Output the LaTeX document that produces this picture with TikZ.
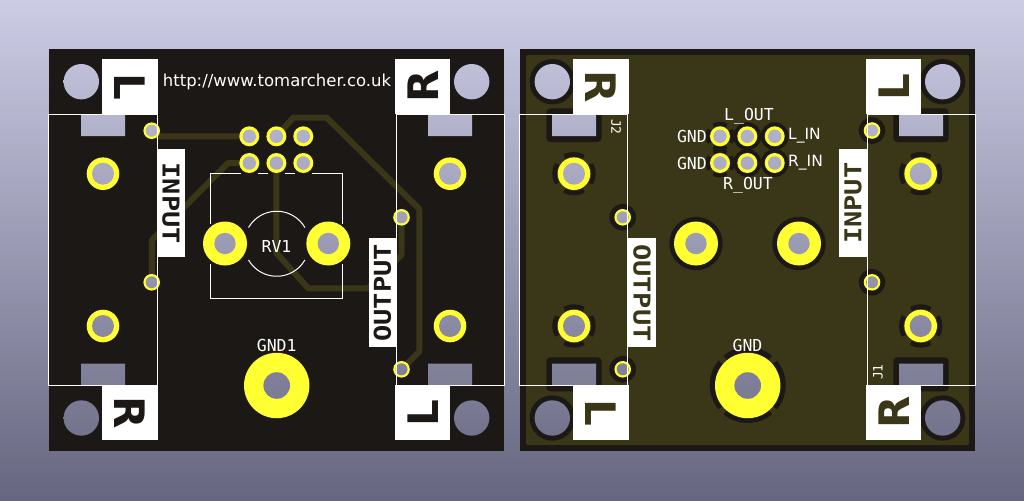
\documentclass[tikz,border=0pt]{standalone}
\usepackage{fontspec}
\setmainfont{DejaVu Sans}
\newfontfamily\silkmono{DejaVu Sans Mono}
\newcommand{\tagword}[1]{\scalebox{1}[0.86]{#1}}
\definecolor{bgtop}{rgb}{0.8,0.8,0.9}
\definecolor{bgbot}{rgb}{0.4,0.4,0.5}
\definecolor{boardblack}{RGB}{28,24,21}
\definecolor{coppergreen}{RGB}{58,54,24}
\definecolor{padyellow}{RGB}{255,255,50}
\tikzset{
  silkline/.style={draw=white, line width=1pt},
  track/.style={draw=coppergreen, line width=6pt, line join=round},
  thermal/.style={draw=boardblack, line width=5pt},
  silktext/.style={inner sep=0pt, text=white, font=\silkmono\fontsize{16.5}{16.5}\selectfont},
  silkprop/.style={inner sep=0pt, text=white, font=\fontsize{15.5}{15.5}\selectfont},
  cornertag/.style={fill=white, inner sep=0pt, minimum width=55.4pt, minimum height=55.2pt,
    text=#1, font=\bfseries\fontsize{42}{42}\selectfont},
  sidetag/.style={fill=white, inner sep=0pt, minimum height=27.4pt,
    text=#1, font=\silkmono\bfseries\fontsize{27}{27}\selectfont},
}
\begin{document}
\begin{tikzpicture}[x=1pt,y=-1pt]
  \useasboundingbox (0,0) rectangle (1024,500);
  \shade[top color=bgtop, bottom color=bgbot] (0,0) rectangle (1024,500);
  % boards
  \fill[boardblack] (49,49) rectangle (504,451);
  \fill[boardblack] (520,49) rectangle (975,451);
  \fill[coppergreen, rounded corners=2pt] (526,55) rectangle (969,445);
  % pad positions
  \foreach \name/\x/\y in {
      viaA/151.7/130.7, viaB/151.7/282.3, viaC/401.5/217.3, viaD/401.5/369.3,
      hdrA/249.3/136.3, hdrB/276.4/136.3, hdrC/303.3/136.3,
      hdrD/249.3/163, hdrE/276.4/163, hdrF/303.3/163}
    \coordinate (\name) at (\x,\y);
  % tracks on the front
  \draw[track] (viaA) -- (158,136.3) -- (hdrA);
  \draw[track] (viaB) -- (152,240) -- (228,163) -- (hdrD);
  \draw[track] (hdrE) -- (276.4,253) -- (308.3,288.3) -- (368,288.3) -- (401.5,255) -- (viaC);
  \draw[track] (hdrB) -- (293.3,117.6) -- (326.7,117.6) -- (419.3,209) -- (419.3,351.7) -- (viaD);
  % clearance on the back
  \foreach \x/\y/\r in {552.3/81.7/22.7, 942.7/81.7/22.7, 552.3/418/22.7, 942.7/418/22.7,
      622.7/217.3/13.3, 622.7/369.3/13.3, 872/130.5/13.3, 872/282.3/13.3,
      696/243.5/26.7, 799/243.5/26.7,
      747.3/136.3/14, 774.7/136.3/14, 747.3/163/14, 774.7/163/14}
    \fill[boardblack] (\x,\y) circle (\r pt);
  \foreach \x/\y/\w/\h in {546.3/108.3/55.4/33.7, 893.3/108.3/55.4/33.7,
      546.3/357.3/55.4/34, 893.3/357.3/55.4/34}
    \fill[boardblack, rounded corners=4pt] (\x,\y) rectangle ++(\w,\h);
  \foreach \x/\y in {574/173.7, 574/326, 920.7/173.7, 920.7/326}
    \foreach \a in {0,90,180,270}
      \draw[thermal, line width=4.5pt] ([shift={(\x,\y)}]\a-30:19.5pt) arc[start angle=\a-30, delta angle=60, radius=19.5pt];
  \foreach \y in {136.3,163}
    \foreach \a in {0,90,180,270}
      \draw[thermal, line width=4pt] ([shift={(720,\y)}]\a-32:12.5pt) arc[start angle=\a-32, delta angle=64, radius=12.5pt];
  \foreach \a in {0,90,180,270}
    \draw[thermal, line width=6pt] ([shift={(747.7,385)}]\a-40:35pt) arc[start angle=\a-40, delta angle=80, radius=35pt];
  % copper pads
  \foreach \x/\y/\r in {
      103/173.7/16.3, 103/326/16.3, 450/173.7/16.3, 450/326/16.3,
      151.7/130.7/8.3, 151.7/282.3/8.3, 401.5/217.3/8.3, 401.5/369.3/8.3,
      249.3/136.3/10, 276.4/136.3/10, 303.3/136.3/10, 249.3/163/10, 276.4/163/10, 303.3/163/10,
      225/243.5/22, 328.3/243.5/22, 276.7/385.5/32.7,
      574/173.7/16.3, 574/326/16.3, 920.7/173.7/16.3, 920.7/326/16.3,
      622.7/217.3/8.3, 622.7/369.3/8.3, 872/130.5/8.3, 872/282.3/8.3,
      720/136.3/10, 747.3/136.3/10, 774.7/136.3/10, 720/163/10, 747.3/163/10, 774.7/163/10,
      696/243.5/22, 799/243.5/22, 747.7/385.5/32.7}
    \fill[padyellow] (\x,\y) circle (\r pt);
  % drilled holes and slots show the background
  \begin{scope}
    \clip
      \foreach \x/\y/\r in {
        81.3/81.7/17.7, 471.7/81.7/17.7, 81.3/418/17.7, 471.7/418/17.7,
        552.3/81.7/17.7, 942.7/81.7/17.7, 552.3/418/17.7, 942.7/418/17.7,
        103/173.7/11, 103/326/11, 450/173.7/11, 450/326/11,
        151.7/130.7/6, 151.7/282.3/6, 401.5/217.3/6, 401.5/369.3/6,
        249.3/136.3/6.7, 276.4/136.3/6.7, 303.3/136.3/6.7, 249.3/163/6.7, 276.4/163/6.7, 303.3/163/6.7,
        225/243.5/10.7, 328.3/243.5/10.7, 276.7/385.5/13.3,
        574/173.7/11, 574/326/11, 920.7/173.7/11, 920.7/326/11,
        622.7/217.3/6, 622.7/369.3/6, 872/130.5/6, 872/282.3/6,
        720/136.3/6.7, 747.3/136.3/6.7, 774.7/136.3/6.7, 720/163/6.7, 747.3/163/6.7, 774.7/163/6.7,
        696/243.5/10.7, 799/243.5/10.7, 747.7/385.5/13.3}
        {(\x,\y) circle (\r pt)}
      (81,115) rectangle (125,136) (81,363.7) rectangle (125,385)
      (428,115) rectangle (472,136) (428,363.7) rectangle (472,385)
      (552,115) rectangle (596,136) (552,363.7) rectangle (596,385)
      (899,115) rectangle (943,136) (899,363.7) rectangle (943,385);
    \shade[top color=bgtop, bottom color=bgbot] (0,0) rectangle (1024,500);
  \end{scope}
  % silk on the front
  \draw[silkline] (48.7,115) rectangle (157,385);
  \draw[silkline] (396,115) rectangle (504.3,385);
  \draw[silkline] (241,173) -- (210.3,173) -- (210.3,224);
  \draw[silkline] (210.3,264) -- (210.3,298) -- (342.7,298) -- (342.7,264);
  \draw[silkline] (342.7,224) -- (342.7,173) -- (312,173);
  \draw[silkline] (257.7,173) -- (268,173);
  \draw[silkline] (285,173) -- (295,173);
  \draw[silkline] (248.6,227.5) arc[start angle=150, end angle=30, radius=32.5pt];
  \draw[silkline] (248.6,260) arc[start angle=210, end angle=330, radius=32.5pt];
  \node (tagLtop) [cornertag=boardblack, rotate=-90] at (130,86.7) {L};
  \node (tagRtop) [cornertag=boardblack, rotate=90] at (422.7,86.7) {R};
  \node (tagRbot) [cornertag=boardblack, rotate=-90] at (130,412.7) {R};
  \node (tagLbot) [cornertag=boardblack, rotate=90] at (422.7,412.7) {L};
  \node (tagIn) [sidetag=boardblack, minimum width=108.3pt, rotate=-90] at (171,203.2) {\tagword{INPUT}};
  \node (tagOut) [sidetag=boardblack, minimum width=109pt, rotate=90] at (382.3,292.8) {\tagword{OUTPUT}};
  \node (url) [silktext, font=\fontsize{16.5}{16.5}\selectfont] at (277,82) {http://www.tomarcher.co.uk};
  \node (rvname) [silktext] at (276.5,246) {RV1};
  \node (gndname) [silktext] at (276.7,345) {GND1};
  % silk on the back
  \draw[silkline] (519.3,115) rectangle (627.7,385);
  \draw[silkline] (867,115) rectangle (975.3,385);
  \node (tagRleft) [cornertag=coppergreen, rotate=-90] at (601,86.7) {R};
  \node (tagLright) [cornertag=coppergreen, rotate=90] at (893.7,86.7) {L};
  \node (tagLleft) [cornertag=coppergreen, rotate=-90] at (601,412.7) {L};
  \node (tagRright) [cornertag=coppergreen, rotate=90] at (893.7,412.7) {R};
  \node (tagInB) [sidetag=coppergreen, minimum width=108.3pt, rotate=90] at (853,203.2) {\tagword{INPUT}};
  \node (tagOutB) [sidetag=coppergreen, minimum width=109pt, rotate=-90] at (642,292.8) {\tagword{OUTPUT}};
  \node (lout) [silktext] at (749,116) {L\_OUT};
  \node (rout) [silktext] at (748,185) {R\_OUT};
  \node (gndA) [silktext, anchor=east] at (707,136) {GND};
  \node (gndB) [silktext, anchor=east] at (707,163) {GND};
  \node (lin) [silkprop, anchor=west] at (788,136) {L\_IN};
  \node (rin) [silkprop, anchor=west] at (788,163) {R\_IN};
  \node (gndC) [silktext] at (747.5,345) {GND};
  \node (jackB) [silktext, font=\silkmono\fontsize{13}{13}\selectfont, rotate=-90] at (616,127) {J2};
  \node (jackA) [silktext, font=\silkmono\fontsize{13}{13}\selectfont, rotate=90] at (878,372) {J1};
\end{tikzpicture}
\end{document}
